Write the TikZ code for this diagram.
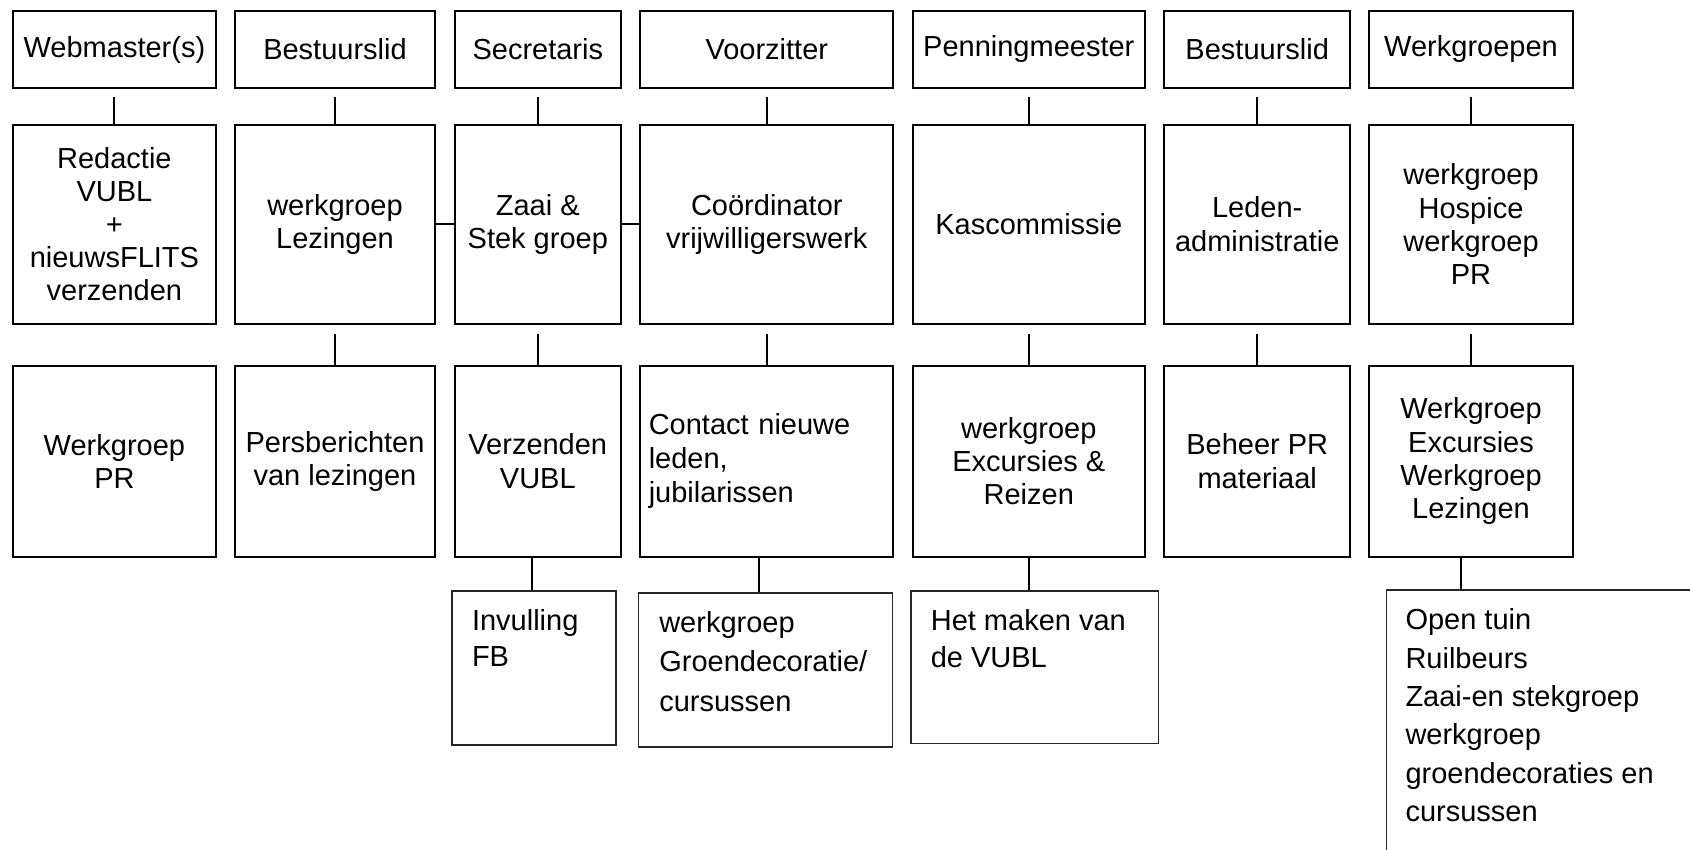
\documentclass[tikz,border=0pt]{standalone}
\usepackage{fontspec}
\setmainfont{Liberation Sans}
\usetikzlibrary{positioning, calc}
\tikzset{
    every node/.style={font=\fontsize{14.5}{16.6}\selectfont},
    rolbox/.style={draw, line width=1pt, align=center, inner sep=0pt,
        minimum height=38.5pt},
    taakbox/.style={draw, line width=1pt, align=center, inner sep=0pt,
        minimum height=99.5pt},
    subbox/.style={draw, line width=1pt, align=center, inner sep=0pt,
        minimum height=95.5pt},
    leafbox/.style={draw=black!85, line width=.8pt, inner sep=0pt,
        anchor=north west},
    leaftext/.style={align=left, anchor=north west, inner sep=0pt,
        font=\fontsize{14.5}{18.4}\selectfont},
    link/.style={line width=1pt},
    col1/.style={minimum width=101.7pt},
    col2/.style={minimum width=100pt},
    col3/.style={minimum width=83.2pt},
    col4/.style={minimum width=126.5pt},
    col5/.style={minimum width=116.2pt},
    col6/.style={minimum width=92.9pt},
    col7/.style={minimum width=102.3pt},
}
\begin{document}
\begin{tikzpicture}[x=1pt, y=-1pt]
    \useasboundingbox (0, 0) rectangle (845, 425);
    \clip (0, 0) rectangle (845, 425);

    % bestuur
    \node[rolbox, col1] (web) at (57.2, 24.75) {Webmaster(s)};
    \node[rolbox, col2] (best1) at (167.5, 24.75) {Bestuurslid};
    \node[rolbox, col3] (secr) at (268.9, 24.75) {Secretaris};
    \node[rolbox, col4] (voorz) at (383.4, 24.75) {Voorzitter};
    \node[rolbox, col5] (penn) at (514.4, 24.75) {Penningmeester};
    \node[rolbox, col6] (best2) at (628.6, 24.75) {Bestuurslid};
    \node[rolbox, col7] (wgr) at (735.5, 24.75) {Werkgroepen};

    % taken
    \node[taakbox, col1, below=17.35pt of web] (redactie)
        {Redactie\\VUBL\\+\\nieuwsFLITS\\verzenden};
    \node[taakbox, col2, below=17.35pt of best1] (lezing) {werkgroep\\Lezingen};
    \node[taakbox, col3, below=17.35pt of secr] (zaai) {Zaai \&\\Stek groep};
    \node[taakbox, col4, below=17.35pt of voorz] (coord)
        {Coördinator\\vrijwilligerswerk};
    \node[taakbox, col5, below=17.35pt of penn] (kas) {Kascommissie};
    \node[taakbox, col6, below=17.35pt of best2] (leden)
        {Leden-\\administratie};
    \node[taakbox, col7, below=17.35pt of wgr] (hospice)
        {werkgroep\\Hospice\\werkgroep\\PR};

    \node[subbox, col1, below=20pt of redactie] (pr) {Werkgroep\\PR};
    \node[subbox, col2, below=20pt of lezing] (persb)
        {Persberichten\\van lezingen};
    \node[subbox, col3, below=20pt of zaai] (verz) {Verzenden\\VUBL};
    \node[subbox, col4, below=20pt of coord, text width=118pt, align=left,
        font=\fontsize{14.5}{17}\selectfont]
        (contact) {Contact nieuwe\\leden,\\jubilarissen};
    \node[subbox, col5, below=20pt of kas] (excur)
        {werkgroep\\Excursies \&\\Reizen};
    \node[subbox, col6, below=20pt of leden] (beheer)
        {Beheer PR\\materiaal};
    \node[subbox, col7, below=20pt of hospice] (lezwg)
        {Werkgroep\\Excursies\\Werkgroep\\Lezingen};

    % losse groepen
    \node[leafbox, minimum width=82.2pt, minimum height=77pt] (fb)
        at (225.5, 295) {};
    \node[leafbox, minimum width=127pt, minimum height=76.9pt] (groen)
        at (318.85, 296.15) {};
    \node[leafbox, minimum width=123.9pt, minimum height=76.4pt] (maken)
        at (455, 295) {};
    \node[leafbox, minimum width=180pt, minimum height=150pt] (tuin)
        at (692.75, 294.65) {};
    \node[leaftext] (fbtxt) at ([shift={(10.3pt, -9.3pt)}]fb.north west)
        {Invulling\\FB};
    \node[leaftext, font=\fontsize{14.5}{19.6}\selectfont] (groentxt)
        at ([shift={(10.6pt, -9.5pt)}]groen.north west)
        {werkgroep\\Groendecoratie/\\cursussen};
    \node[leaftext] (makentxt) at ([shift={(10.2pt, -9.5pt)}]maken.north west)
        {Het maken van\\de VUBL};
    \node[leaftext, font=\fontsize{14.5}{19.2}\selectfont] (tuintxt)
        at ([shift={(9.8pt, -9.5pt)}]tuin.north west)
        {Open tuin\\Ruilbeurs\\Zaai-en stekgroep\\werkgroep\\
        groendecoraties en\\cursussen};

    % verbindingen
    \foreach \a/\b in {web/redactie, best1/lezing, secr/zaai, voorz/coord,
            penn/kas, best2/leden, wgr/hospice}
        \draw[link, shorten <=4pt] (\a) -- (\b);
    \foreach \a/\b in {lezing/persb, zaai/verz, coord/contact, kas/excur,
            leden/beheer, hospice/lezwg}
        \draw[link, shorten <=4.5pt] (\a) -- (\b);
    \draw[link] (lezing) -- (zaai);
    \draw[link] (zaai) -- (coord);

    \draw[link] ([xshift=-2.9pt]verz.south)
        -- ([xshift=-2.9pt]verz.south |- fb.north);
    \draw[link] ([xshift=-3.9pt]contact.south)
        -- ([xshift=-3.9pt]contact.south |- groen.north);
    \draw[link] (excur.south) -- (excur.south |- maken.north);
    \draw[link] ([xshift=-5pt]lezwg.south)
        -- ([xshift=-5pt]lezwg.south |- tuin.north);
\end{tikzpicture}
\end{document}
